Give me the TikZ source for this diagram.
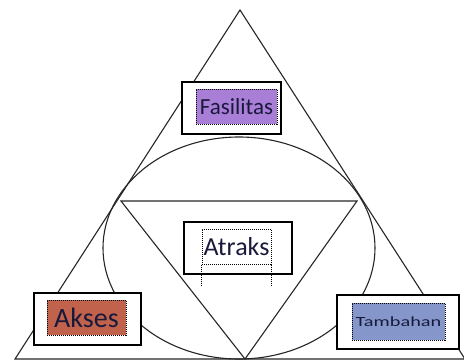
\documentclass[tikz,border=0pt]{standalone}
\usepackage{fontspec}
\setmainfont{Carlito}
\definecolor{fasilcol}{RGB}{168,126,214}
\definecolor{aksescol}{RGB}{193,98,76}
\definecolor{tambahcol}{RGB}{133,151,202}
\definecolor{textcol}{RGB}{25,25,60}

\begin{document}
\begin{tikzpicture}[x=1pt, y=-1pt,
    outerbox/.style={draw=black, line width=1.3pt, fill=white, inner sep=0pt},
    innerbox/.style={draw=black, dash pattern=on 1pt off 1pt, line width=1pt, inner sep=0pt, text=textcol},
    dotline/.style={draw=black, dash pattern=on 1pt off 1pt, line width=1pt}]
        \useasboundingbox (0,0) rectangle (464,360);
        % outer triangle, ellipse, inner triangle
        \draw[black!85, line width=1.1pt] (240,10) -- (15,359) -- (465,359) -- cycle;
        \draw[black!85, line width=1.1pt] (239,248) ellipse [x radius=136, y radius=111];
        \draw[black!85, line width=1.1pt] (121,201) -- (357,201) -- (245,359) -- cycle;
        % boxes
        \node[outerbox, minimum width=99pt, minimum height=52pt] (fasbox) at (231.5,108) {};
        \node[innerbox, fill=fasilcol, minimum width=81pt, minimum height=35pt, font=\fontsize{23}{26}\selectfont] (fas) at (236.5,106.5) {Fasilitas};
        \node[outerbox, minimum width=108pt, minimum height=52pt] (atrbox) at (238,248) {};
        \node[innerbox, minimum width=69pt, minimum height=35pt, font=\fontsize{26}{29}\selectfont] (atr) at (236.5,246.5) {Atraks};
        \draw[dotline] (atr.south west) -- ++(0,21);
        \draw[dotline] (atr.south east) -- ++(0,21);
        \node[outerbox, minimum width=107pt, minimum height=52pt] (aksbox) at (87.5,319) {};
        \node[innerbox, fill=aksescol, minimum width=79pt, minimum height=35pt, font=\fontsize{28}{31}\selectfont] (aks) at (86.5,317.5) {Akses};
        \node[outerbox, minimum width=122pt, minimum height=54pt] (tambox) at (398,322) {};
        \node[innerbox, fill=tambahcol, minimum width=93pt, minimum height=37pt, font=\fontsize{14}{16}\selectfont] (tam) at (398.5,321.5) {\scalebox{1.45}[1]{Tambahan}};
\end{tikzpicture}
\end{document}
